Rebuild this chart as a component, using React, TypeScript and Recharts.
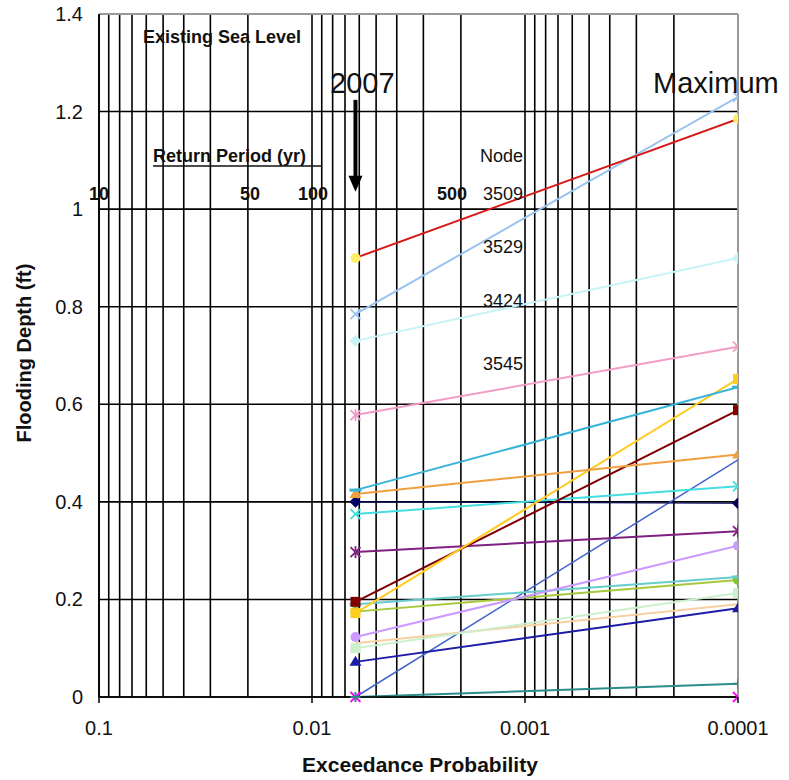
import React from 'react';
import { LineChart, Line, XAxis, YAxis, CartesianGrid, ReferenceLine, ReferenceDot } from 'recharts';

// exceedance probability at the two computed points (2007 event, maximum)
const probabilities = [0.00625, 0.0001];

// flooding depth (ft) at each node, [2007, maximum]
const node3509 = [0.9, 1.185];
const node3529 = [0.785, 1.23];
const node3424 = [0.73, 0.9];
const node3545 = [0.578, 0.718];
const skyNode = [0.424, 0.635];
const orangeNode = [0.416, 0.497];
const goldNode = [0.172, 0.652];
const maroonNode = [0.195, 0.588];
const turquoiseNode = [0.375, 0.432];
const navyNode = [0.4, 0.397];
const purpleNode = [0.297, 0.34];
const royalNode = [0.0, 0.486];
const lavenderNode = [0.123, 0.31];
const tealNode = [0.19, 0.246];
const oliveNode = [0.175, 0.24];
const paleGreenNode = [0.1, 0.213];
const peachNode = [0.11, 0.19];
const darkBlueNode = [0.072, 0.182];
const darkTealNode = [0.0, 0.027];
const magentaNode = [0.0, 0.0];

const xTicks = [
  0.1, 0.09, 0.08, 0.07, 0.06, 0.05, 0.04, 0.03, 0.02,
  0.01, 0.009, 0.008, 0.007, 0.006, 0.005, 0.004, 0.003, 0.002,
  0.001, 0.0009, 0.0008, 0.0007, 0.0006, 0.0005, 0.0004, 0.0003, 0.0002,
  0.0001,
];
const xLabels = ['0.1', '0.01', '0.001', '0.0001'];
const yTicks = [0, 0.2, 0.4, 0.6, 0.8, 1, 1.2, 1.4];

const returnPeriods = [
  { label: '10', x: 99 },
  { label: '50', x: 250 },
  { label: '100', x: 313 },
  { label: '500', x: 452 },
];
const nodeLabels = [
  { label: 'Node', y: 162 },
  { label: '3509', y: 200 },
  { label: '3529', y: 253 },
  { label: '3424', y: 307 },
  { label: '3545', y: 370 },
];

type MarkerShape = 'circle' | 'square' | 'diamond' | 'triangle' | 'x' | 'star' | 'plus' | 'dash' | 'none';

const series: {
  name: string;
  values: number[];
  color: string;
  marker: MarkerShape;
  markerColor?: string;
  width?: number;
}[] = [
  { name: 'magenta', values: magentaNode, color: '#ff00ff', marker: 'x', width: 0 },
  { name: 'darkTeal', values: darkTealNode, color: '#2b8c8c', marker: 'plus' },
  { name: 'royal', values: royalNode, color: '#4466cc', marker: 'none', width: 1.5 },
  { name: 'darkBlue', values: darkBlueNode, color: '#1c1ca8', marker: 'triangle' },
  { name: 'peach', values: peachNode, color: '#f8d0a0', marker: 'none' },
  { name: 'paleGreen', values: paleGreenNode, color: '#ccf0cc', marker: 'square' },
  { name: 'olive', values: oliveNode, color: '#a8c83c', marker: 'circle', markerColor: '#77cc22' },
  { name: 'teal', values: tealNode, color: '#66cccc', marker: 'dash' },
  { name: 'lavender', values: lavenderNode, color: '#cc99ff', marker: 'circle' },
  { name: 'purple', values: purpleNode, color: '#802080', marker: 'star' },
  { name: 'navy', values: navyNode, color: '#000060', marker: 'diamond', width: 1 },
  { name: 'turquoise', values: turquoiseNode, color: '#44dde0', marker: 'x' },
  { name: 'maroon', values: maroonNode, color: '#800000', marker: 'square' },
  { name: 'gold', values: goldNode, color: '#ffcc22', marker: 'square' },
  { name: 'orange', values: orangeNode, color: '#f0a040', marker: 'triangle' },
  { name: 'sky', values: skyNode, color: '#38b4d8', marker: 'dash' },
  { name: '3545', values: node3545, color: '#f29cc8', marker: 'star' },
  { name: '3424', values: node3424, color: '#c8f4f8', marker: 'diamond' },
  { name: '3529', values: node3529, color: '#99c4f0', marker: 'x' },
  { name: '3509', values: node3509, color: '#d81818', marker: 'circle', markerColor: '#ffee66' },
];

const FONT = '"Liberation Sans", Arial, sans-serif';

function renderMarker(shape: MarkerShape, color: string) {
  return (props: any) => {
    const { cx, cy, index } = props;
    const k = `m-${index}`;
    if (shape === 'none' || cx == null || cy == null) return <g key={k} />;
    const s = 5;
    switch (shape) {
      case 'circle':
        return <circle key={k} cx={cx} cy={cy} r={5} fill={color} />;
      case 'square':
        return <rect key={k} x={cx - s} y={cy - s} width={s * 2} height={s * 2} fill={color} />;
      case 'diamond':
        return <polygon key={k} points={`${cx},${cy - 6} ${cx + 6},${cy} ${cx},${cy + 6} ${cx - 6},${cy}`} fill={color} />;
      case 'triangle':
        return <polygon key={k} points={`${cx},${cy - 6} ${cx + 6},${cy + 4} ${cx - 6},${cy + 4}`} fill={color} />;
      case 'dash':
        return <rect key={k} x={cx - 6} y={cy - 1.5} width={12} height={3} fill={color} />;
      case 'plus':
        return (
          <g key={k} stroke={color} strokeWidth={2}>
            <line x1={cx - 5} x2={cx + 5} y1={cy} y2={cy} />
            <line x1={cx} x2={cx} y1={cy - 5} y2={cy + 5} />
          </g>
        );
      case 'star':
        return (
          <g key={k} stroke={color} strokeWidth={1.8}>
            <line x1={cx - 5} x2={cx + 5} y1={cy - 5} y2={cy + 5} />
            <line x1={cx - 5} x2={cx + 5} y1={cy + 5} y2={cy - 5} />
            <line x1={cx} x2={cx} y1={cy - 6} y2={cy + 6} />
          </g>
        );
      default:
        return (
          <g key={k} stroke={color} strokeWidth={1.8}>
            <line x1={cx - 5} x2={cx + 5} y1={cy - 5} y2={cy + 5} />
            <line x1={cx - 5} x2={cx + 5} y1={cy + 5} y2={cy - 5} />
          </g>
        );
    }
  };
}

function XTick({ x, y, payload }: any) {
  const label = xLabels.find((l) => Number(l) === payload.value);
  if (!label) return <g />;
  return (
    <g>
      <line x1={x} x2={x} y1={y} y2={y + 6} stroke="#000" strokeWidth={1.5} />
      <text x={x} y={y + 38} textAnchor="middle" fontSize={20} fontFamily={FONT} fill="#111">
        {label}
      </text>
    </g>
  );
}

function YTick({ x, y, payload }: any) {
  return (
    <text x={x - 16} y={y} dy="0.35em" textAnchor="end" fontSize={20} fontFamily={FONT} fill="#111">
      {payload.value}
    </text>
  );
}

function Arrow(props: any) {
  const { cx, cy } = props;
  return (
    <g>
      <rect x={cx - 2} y={cy} width={4} height={80} fill="#000" />
      <polygon points={`${cx - 7},${cy + 76} ${cx + 7},${cy + 76} ${cx},${cy + 92}`} fill="#000" />
    </g>
  );
}

export default function App() {
  return (
    <div style={{ position: 'absolute', left: 0, top: 0, width: 789, height: 780, background: '#fff' }}>
      <LineChart width={789} height={780} margin={{ top: 14, right: 51, bottom: 0, left: 0 }}>
        <CartesianGrid stroke="#000" strokeWidth={1.6} />
        <XAxis
          type="number"
          dataKey="p"
          scale="log"
          domain={[0.0001, 0.1]}
          reversed
          ticks={xTicks}
          interval={0}
          tick={<XTick />}
          tickSize={0}
          tickMargin={0}
          tickLine={false}
          height={83}
          stroke="#000"
          strokeWidth={1.6}
          allowDataOverflow
        />
        <YAxis
          type="number"
          domain={[0, 1.4]}
          ticks={yTicks}
          interval={0}
          tick={<YTick />}
          tickSize={0}
          tickMargin={0}
          tickLine={false}
          width={99}
          stroke="#000"
          strokeWidth={1.6}
        />
        <ReferenceLine y={1.4} stroke="#999" strokeWidth={2} />
        <ReferenceLine x={0.0001} stroke="#999" strokeWidth={2} />
        <ReferenceDot x={0.00625} y={1.224} r={0} shape={<Arrow />} />
        {series.map((s) => (
          <Line
            key={s.name}
            data={probabilities.map((p, i) => ({ p, v: s.values[i] }))}
            dataKey="v"
            type="linear"
            stroke={s.color}
            strokeWidth={s.width ?? 2}
            dot={renderMarker(s.marker, s.markerColor ?? s.color)}
            activeDot={false}
            isAnimationActive={false}
          />
        ))}
      </LineChart>
      <svg width={789} height={780} style={{ position: 'absolute', left: 0, top: 0, pointerEvents: 'none' }} fontFamily={FONT}>
        <text x={143} y={43} fontSize={18} fontWeight="bold" fill="#111">Existing Sea Level</text>
        <text x={153} y={162} fontSize={18} fontWeight="bold" fill="#111">Return Period (yr)</text>
        <line x1={153} x2={322} y1={166} y2={166} stroke="#111" strokeWidth={1.5} />
        {returnPeriods.map((r) => (
          <text key={r.label} x={r.x} y={200} textAnchor="middle" fontSize={18} fontWeight="bold" fill="#111">
            {r.label}
          </text>
        ))}
        <text x={330} y={93} fontSize={29} fill="#111">2007</text>
        <text x={653} y={93} fontSize={29} fill="#111">Maximum</text>
        {nodeLabels.map((n) => (
          <text key={n.label} x={523} y={n.y} textAnchor="end" fontSize={18} fill="#111">
            {n.label}
          </text>
        ))}
        <text x={420} y={772} textAnchor="middle" fontSize={21} fontWeight="bold" fill="#111">
          Exceedance Probability
        </text>
        <text
          x={0}
          y={0}
          transform="translate(31,353) rotate(-90)"
          textAnchor="middle"
          fontSize={20}
          fontWeight="bold"
          fill="#111"
        >
          Flooding Depth (ft)
        </text>
      </svg>
    </div>
  );
}
